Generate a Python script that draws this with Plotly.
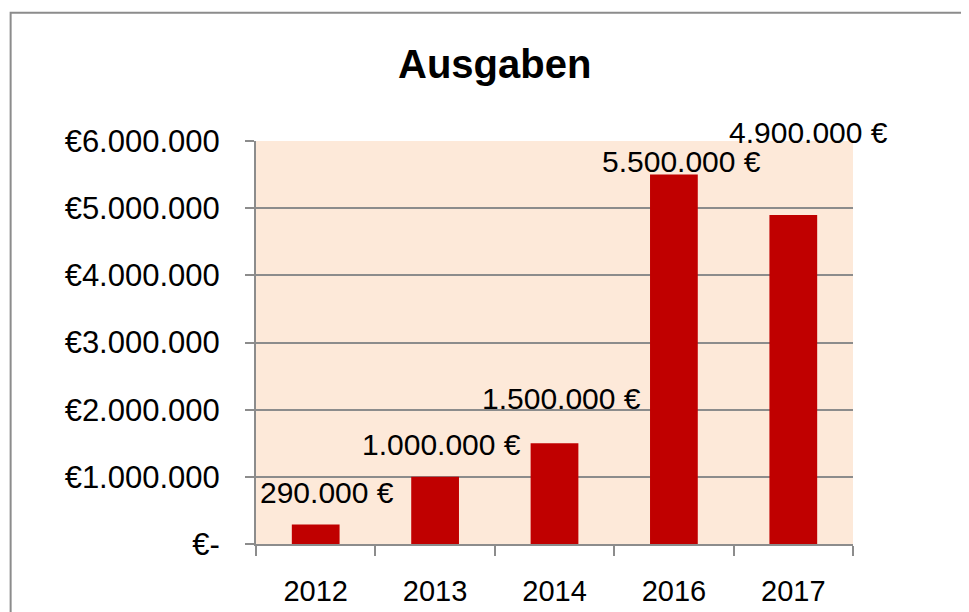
import plotly.graph_objects as go

# Data
years = ["2012", "2013", "2014", "2016", "2017"]
ausgaben = [290000, 1000000, 1500000, 5500000, 4900000]
label_texts = ["290.000 €", "1.000.000 €", "1.500.000 €", "5.500.000 €", "4.900.000 €"]
y_tickvals = [0, 1000000, 2000000, 3000000, 4000000, 5000000, 6000000]
y_ticktext = ["€-", "€1.000.000", "€2.000.000", "€3.000.000", "€4.000.000", "€5.000.000", "€6.000.000"]

# label placement offsets (pixels), style only
label_xshift = [11, 6, 7, 8, 15]
label_yshift = [32, 32, 45, 13, 82]

FONT = "Liberation Sans"
GRID = "#8c8c8c"

fig = go.Figure()
fig.add_trace(go.Bar(
    x=years, y=ausgaben,
    marker=dict(color="#C00000", line=dict(width=0)),
    showlegend=False,
))

for i, (val, txt, dx, dy) in enumerate(zip(ausgaben, label_texts, label_xshift, label_yshift)):
    fig.add_annotation(
        x=i, y=val, text=txt, showarrow=False,
        xanchor="center", yanchor="middle",
        xshift=dx, yshift=dy,
        font=dict(family=FONT, size=30, color="black"),
    )

fig.add_annotation(
    x=0.400, y=1.19, xref="paper", yref="paper",
    text="<b>Ausgaben</b>", showarrow=False,
    xanchor="center", yanchor="middle",
    font=dict(family=FONT, size=40, color="black"),
)

# chart border (extends beyond the visible frame on right/bottom)
fig.add_shape(
    type="rect", xref="paper", yref="paper",
    x0=-0.411, x1=1.25, y0=-0.3, y1=1.318,
    line=dict(color="#8c8c8c", width=2), fillcolor="rgba(0,0,0,0)",
    layer="above",
)

fig.update_layout(
    width=969, height=612,
    margin=dict(l=248, r=124, t=133, b=76, autoexpand=False),
    paper_bgcolor="white",
    plot_bgcolor="#FDE9D9",
    bargap=0.6,
    font=dict(family=FONT, size=30, color="black"),
)

fig.update_yaxes(
    range=[0, 6000000],
    tickvals=y_tickvals, ticktext=y_ticktext,
    showgrid=True, gridcolor=GRID, gridwidth=2,
    showline=True, linecolor=GRID, linewidth=2,
    ticks="outside", ticklen=9, tickcolor=GRID, tickwidth=2,
    ticklabelstandoff=19,
    tickfont=dict(family=FONT, size=31, color="black"),
    zeroline=False,
)

fig.update_xaxes(
    type="category",
    range=[-0.5, len(years) - 0.5],
    showline=True, linecolor=GRID, linewidth=2,
    ticks="outside", ticklen=10, tickcolor=GRID, tickwidth=2,
    tickson="boundaries",
    ticklabelstandoff=20,
    tickfont=dict(family=FONT, size=29, color="black"),
    tickangle=0,
    showgrid=False,
)

fig.write_html("out.html")
